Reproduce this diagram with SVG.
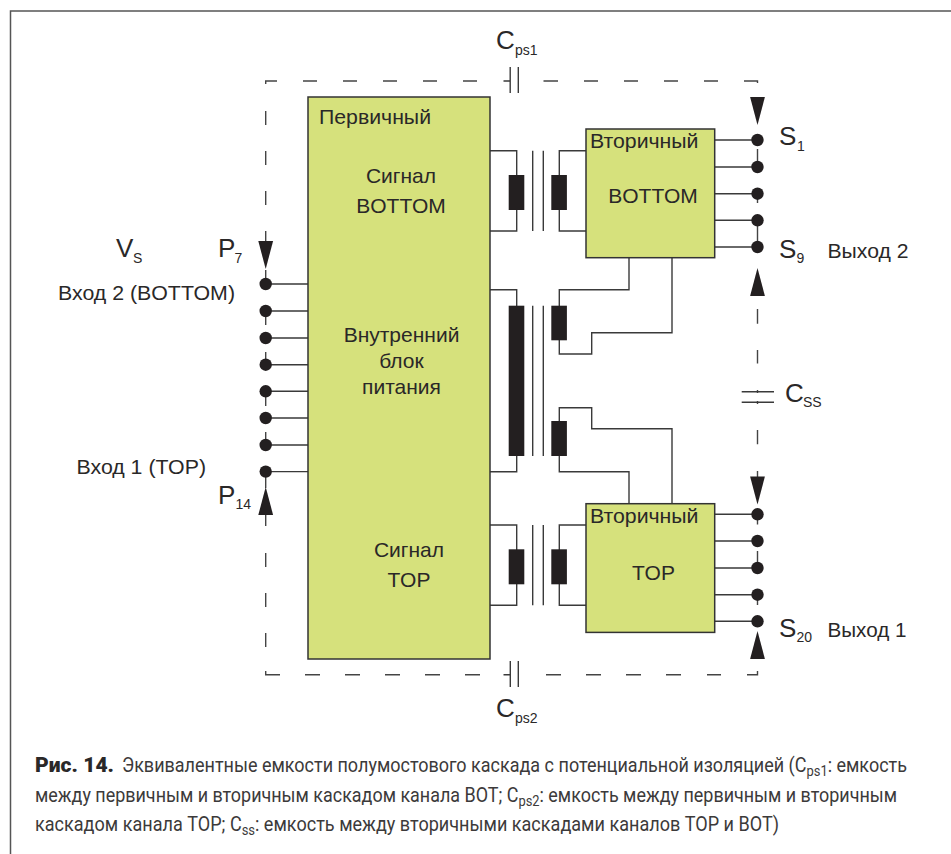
<svg xmlns="http://www.w3.org/2000/svg" width="951" height="854" viewBox="0 0 951 854">
<style>
text{font-family:"Liberation Sans",Arial,sans-serif;fill:#2a2828;font-size:21px}
.b{font-size:26px}
.s{font-size:14px}
.c{font-family:Roboto,"Liberation Sans",sans-serif;font-size:19.5px;fill:#3c3a3a}
.cs{font-size:14px}
.cb{font-family:Roboto,"Liberation Sans",sans-serif;font-size:19.5px;font-weight:900;fill:#2a2828}
.m{text-anchor:middle}
.box{fill:#d6e17c;stroke:#333;stroke-width:1.5}
.w{fill:none;stroke:#3a3a3a;stroke-width:1.4}
.d{fill:none;stroke:#444;stroke-width:1.4}
.k{fill:#231f20;stroke:none}
</style>
<defs>
<circle id="pin" r="6.2" class="k"/>
<path id="ad" d="M-7.4 0H7.4L0 28Z" class="k"/>
<path id="au" d="M-7.4 0H7.4L0 -28Z" class="k"/>
</defs>
<rect width="951" height="854" fill="#fff"/>
<path id="frame" d="M10.5 854V11H951" fill="none" stroke="#555" stroke-width="1.5"/>

<g id="boundary" class="d">
<path d="M277 81H265.7V84M303 81H317M343 81H357M383 81H397M423 81H437M463 81H477M543.5 81H558M584 81H598M624 81H638M664 81H678M704 81H718M744 81H757.5V83"/>
<path d="M265.7 111V125M265.7 151V165M265.7 191V205M265.7 231V244M265.7 270V278M265.7 311V325M265.7 352V365M265.7 391V406M265.7 432V445M265.7 472V488M265.7 513V526M265.7 553V567M265.7 593V607M265.7 633V647M265.7 671V674.7H280M305 674.7H320M345 674.7H360M385 674.7H400M425 674.7H440M465 674.7H480M546 674.7H561M586 674.7H601M626 674.7H641M666 674.7H681M707 674.7H721M747 674.7H757.5V671"/>
<path d="M757.5 149V167M757.5 194V203M757.5 220V247M757.5 309V323.7M757.5 350V363.5M757.5 390V393M757.5 401V404M757.5 430V444.3M757.5 471V478M757.5 514V524.5M757.5 551V568M757.5 595V605"/>
</g>

<g id="connectors" class="w">
<path d="M265.7 284H308M265.7 311H308M265.7 338H308M265.7 364.7H308M265.7 391.3H308M265.7 418H308M265.7 445H308M265.7 471.6H308"/>
<path d="M714.7 140H757.5M714.7 167H757.5M714.7 193.7H757.5M714.7 220.3H757.5M714.7 247H757.5"/>
<path d="M714.7 514.3H757.5M714.7 541H757.5M714.7 568H757.5M714.7 594.7H757.5M714.7 621.3H757.5"/>
<path d="M490 150.7H516.7V231H490M586 150.7H559.3V231H586"/>
<path d="M490 525H516.7V605.3H490M586 525H559.3V605.3H586"/>
<path d="M490 289.7H516.7V471.7H490"/>
<path d="M629 257.7V289.7H559.3V354H591.7V332.7H672V257.7"/>
<path d="M629 503.7V471.7H559.3V407.7H591.7V428.7H672V503.7"/>
<path d="M532.7 150.7V231M543.3 150.7V231M532.7 305.7V456M543.3 305.7V456M532.7 525V605.3M543.3 525V605.3"/>
<path d="M503.5 81H510M510.2 67V93M518.3 67V93"/>
<path d="M503.5 674.7H510M510.3 661V687M518.3 661V687"/>
<path d="M741.7 391.7H774M741.7 402.3H774"/>
</g>

<g id="arrows">
<use href="#ad" x="265.7" y="241"/>
<use href="#au" x="265.7" y="515"/>
<use href="#ad" x="757.5" y="97"/>
<use href="#au" x="757.5" y="296"/>
<use href="#ad" x="757.5" y="476.5"/>
<use href="#au" x="757.5" y="659"/>
</g>

<g id="pins-left">
<use href="#pin" x="265.7" y="284"/><use href="#pin" x="265.7" y="311"/><use href="#pin" x="265.7" y="338"/><use href="#pin" x="265.7" y="364.7"/><use href="#pin" x="265.7" y="391.3"/><use href="#pin" x="265.7" y="418"/><use href="#pin" x="265.7" y="445"/><use href="#pin" x="265.7" y="471.6"/>
</g>
<g id="pins-s-bottom">
<use href="#pin" x="757.5" y="140"/><use href="#pin" x="757.5" y="167"/><use href="#pin" x="757.5" y="193.7"/><use href="#pin" x="757.5" y="220.3"/><use href="#pin" x="757.5" y="247"/>
</g>
<g id="pins-s-top">
<use href="#pin" x="757.5" y="514.3"/><use href="#pin" x="757.5" y="541"/><use href="#pin" x="757.5" y="568"/><use href="#pin" x="757.5" y="594.7"/><use href="#pin" x="757.5" y="621.3"/>
</g>

<g id="coils">
<rect class="k" x="508.7" y="175" width="15.6" height="35"/>
<rect class="k" x="551.3" y="175" width="15.6" height="35"/>
<rect class="k" x="508.7" y="305.7" width="15.6" height="150.3"/>
<rect class="k" x="551.3" y="305.7" width="15.6" height="34.6"/>
<rect class="k" x="551.3" y="421" width="15.6" height="35"/>
<rect class="k" x="508.7" y="549.3" width="15.6" height="35"/>
<rect class="k" x="551.3" y="549.3" width="15.6" height="35"/>
</g>

<g id="primary">
<rect class="box" x="308" y="97" width="182" height="562"/>
<text x="319" y="124" textLength="112" lengthAdjust="spacingAndGlyphs">Первичный</text>
<text x="401" y="183" class="m">Сигнал</text>
<text x="401" y="212.5" class="m">BOTTOM</text>
<text x="401.5" y="342" class="m">Внутренний</text>
<text x="401.5" y="368" class="m">блок</text>
<text x="401.5" y="393.5" class="m">питания</text>
<text x="409" y="557" class="m">Сигнал</text>
<text x="409" y="586.5" class="m">TOP</text>
</g>
<g id="secondary-bottom">
<rect class="box" x="586" y="129" width="128.7" height="128.7"/>
<text x="590" y="148" textLength="108.5" lengthAdjust="spacingAndGlyphs">Вторичный</text>
<text x="653" y="202.5" class="m">BOTTOM</text>
</g>
<g id="secondary-top">
<rect class="box" x="586" y="503.7" width="128.7" height="128.7"/>
<text x="590" y="522.5" textLength="108.5" lengthAdjust="spacingAndGlyphs">Вторичный</text>
<text x="653.5" y="579.5" class="m">TOP</text>
</g>

<g id="labels">
<text x="116" y="257" class="b">V</text><text x="133" y="263" class="s">S</text>
<text x="218" y="257" class="b">P</text><text x="234.5" y="263" class="s">7</text>
<text x="58" y="300" textLength="177" lengthAdjust="spacingAndGlyphs">Вход 2 (BOTTOM)</text>
<text x="76.5" y="474" textLength="129.5" lengthAdjust="spacingAndGlyphs">Вход 1 (TOP)</text>
<text x="218" y="504" class="b">P</text><text x="235.5" y="509" class="s">14</text>
<text x="496" y="49" class="b">C</text><text x="515" y="54.5" class="s">ps1</text>
<text x="496" y="716.5" class="b">C</text><text x="515" y="723" class="s">ps2</text>
<text x="779" y="145" class="b">S</text><text x="797" y="151" class="s">1</text>
<text x="779" y="257.5" class="b">S</text><text x="796.5" y="262.5" class="s">9</text>
<text x="827.5" y="258" textLength="81" lengthAdjust="spacingAndGlyphs">Выход 2</text>
<text x="785" y="401.5" class="b">C</text><text x="803" y="406.5" class="s">SS</text>
<text x="779" y="636.5" class="b">S</text><text x="796.5" y="642" class="s">20</text>
<text x="827.5" y="637" textLength="79" lengthAdjust="spacingAndGlyphs">Выход 1</text>
</g>

<g id="caption">
<text x="35" y="772" class="cb" textLength="79" lengthAdjust="spacingAndGlyphs">Рис. 14.</text>
<text x="122" y="772" class="c" textLength="785" lengthAdjust="spacingAndGlyphs">Эквивалентные емкости полумостового каскада с потенциальной изоляцией (C<tspan class="cs" dy="4">ps1</tspan><tspan dy="-4">: емкость</tspan></text>
<text x="35" y="801.5" class="c" textLength="862" lengthAdjust="spacingAndGlyphs">между первичным и вторичным каскадом канала BOT; C<tspan class="cs" dy="4">ps2</tspan><tspan dy="-4">: емкость между первичным и вторичным</tspan></text>
<text x="35" y="831" class="c" textLength="744" lengthAdjust="spacingAndGlyphs">каскадом канала TOP; C<tspan class="cs" dy="4">ss</tspan><tspan dy="-4">: емкость между вторичными каскадами каналов TOP и BOT)</tspan></text>
</g>
</svg>
